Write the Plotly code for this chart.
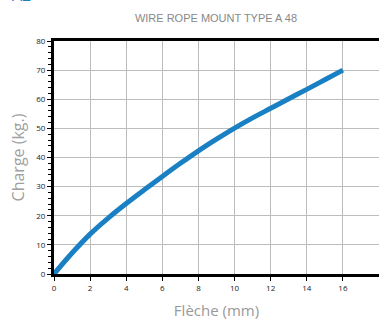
import plotly.graph_objects as go

# deflection (mm) vs load (kg)
fleche = [0, 1, 2, 3, 4, 5, 6, 7, 8, 9, 10, 11, 12, 13, 14, 15, 16]
charge = [0, 7.2, 13.7, 19.2, 24.2, 28.9, 33.5, 38.0, 42.3, 46.3, 50.1, 53.6, 56.9, 60.2, 63.4, 66.7, 70.0]

x_ticks = [0, 2, 4, 6, 8, 10, 12, 14, 16, 18]
y_ticks = [0, 10, 20, 30, 40, 50, 60, 70, 80]

fig = go.Figure()
fig.add_trace(go.Scatter(
    x=fleche, y=charge, mode="lines",
    line=dict(color="#1a80c4", width=5, shape="spline"),
    showlegend=False,
))

axis_font = dict(family="Open Sans", size=8, color="#222")

fig.update_xaxes(
    range=[0, 18], tickvals=x_ticks, tickfont=axis_font, automargin=False,
    showgrid=True, gridcolor="#bdbdbd", gridwidth=1,
    showline=True, linecolor="black", linewidth=3, mirror=True,
    ticks="outside", ticklen=4, tickcolor="black", tickwidth=1,
    zeroline=False,
    title=dict(text="Flèche (mm)", font=dict(family="Open Sans", size=15, color="#999"), standoff=14),
)
fig.update_yaxes(
    range=[0, 80], tickvals=y_ticks, tickfont=axis_font, automargin=False,
    showgrid=True, gridcolor="#bdbdbd", gridwidth=1,
    showline=True, linecolor="black", linewidth=3, mirror=False,
    ticks="outside", ticklen=4, tickcolor="black", tickwidth=1,
    minor=dict(dtick=2, ticks="outside", ticklen=3, tickcolor="black", showgrid=False),
    zeroline=False,
    title=dict(text="Charge (kg.)", font=dict(family="Open Sans", size=16, color="#a0a0a0"), standoff=8),
)

fig.update_layout(
    width=379, height=321,
    margin=dict(l=54, r=0, t=41, b=47, autoexpand=False),
    plot_bgcolor="white", paper_bgcolor="white",
    title=dict(text="WIRE ROPE MOUNT TYPE A 48", x=216 / 379, xanchor="center",
               yref="container", y=1 - 18 / 321, yanchor="middle",
               font=dict(family="Liberation Sans", size=11, color="#888")),
)
fig.add_annotation(text="A2", xref="paper", yref="paper", x=-0.135, y=1.14,
                   xanchor="left", yanchor="bottom", showarrow=False,
                   font=dict(family="Open Sans", size=16, color="#1a80c4"))

# drop the default page margin so the figure sits at the window's corner
fig.write_html("out.html", config={"displayModeBar": False},
               post_script="document.body.style.margin='0';")
